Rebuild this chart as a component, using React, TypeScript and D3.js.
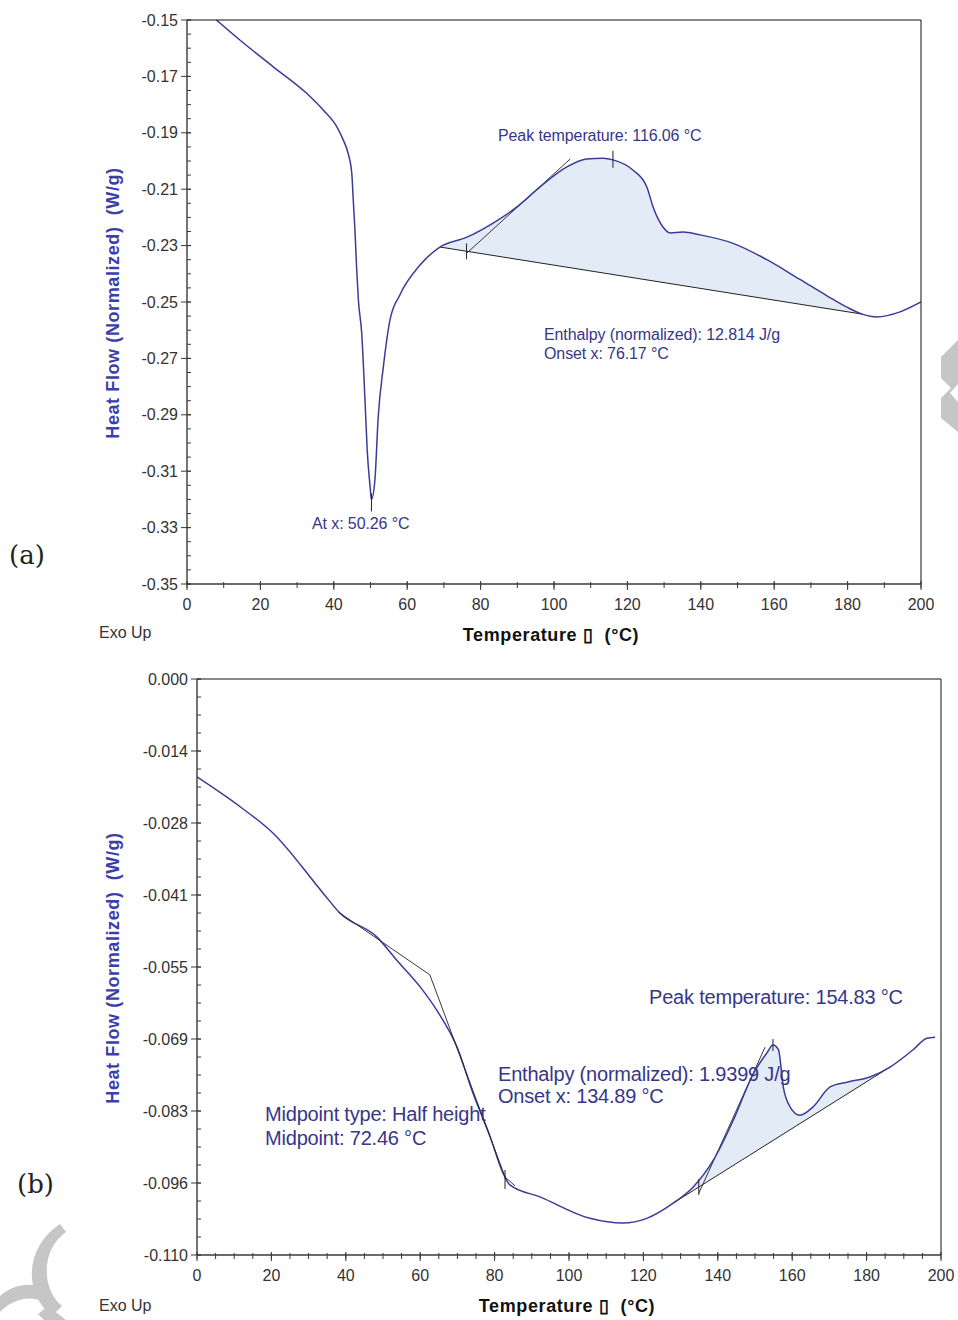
import React from 'react'
import * as d3 from 'd3'

// ---- panel (a) data ----
const tempA = [8, 14.4, 23.5, 32.6, 37.1, 40.8, 42.6, 43.9, 44.9, 45.3, 45.8, 46.2, 46.7, 47.6, 48.5, 49.1, 49.9, 50.26, 51.2, 52.1, 53.5, 55.3, 58, 63.5, 68.9, 76.3, 83.4, 89.9, 96.2, 103.5, 108.9, 113.4, 116.06, 121.5, 125.3, 127.0, 129.7, 131.6, 135.1, 139.8, 148.8, 158.0, 167.0, 174.4, 179.8, 184, 188, 194.3, 200]
const heatA = [-0.1500, -0.1571, -0.1666, -0.1760, -0.1819, -0.1878, -0.1926, -0.1973, -0.2044, -0.2138, -0.2255, -0.2375, -0.2493, -0.2610, -0.2848, -0.3025, -0.3156, -0.3200, -0.3131, -0.2908, -0.2730, -0.2564, -0.2475, -0.2369, -0.2305, -0.2270, -0.2220, -0.2163, -0.2092, -0.2021, -0.1993, -0.1990, -0.1996, -0.2032, -0.2092, -0.2163, -0.2234, -0.2255, -0.2252, -0.2262, -0.2292, -0.2350, -0.2420, -0.2478, -0.2518, -0.2543, -0.2553, -0.2535, -0.2500]
const baselineTA = [68.9, 184]
const baselineVA = [-0.2305, -0.2543]
const tangentTA = [76.3, 104.4]
const tangentVA = [-0.2326, -0.1993]
const peakA = 116.06
const onsetA = 76.17
const valleyA = 50.26
const xTicksA = [0, 20, 40, 60, 80, 100, 120, 140, 160, 180, 200]
const yTicksA = [-0.15, -0.17, -0.19, -0.21, -0.23, -0.25, -0.27, -0.29, -0.31, -0.33, -0.35]
const yLabelsA = ['-0.15', '-0.17', '-0.19', '-0.21', '-0.23', '-0.25', '-0.27', '-0.29', '-0.31', '-0.33', '-0.35']

// ---- panel (b) data ----
const tempB = [0, 11.6, 20.4, 33.9, 38.4, 48.4, 53.7, 60.0, 64.4, 69.9, 74.2, 78.8, 82.3, 84.1, 92.2, 105.6, 114.5, 120.9, 128.0, 133.4, 138.8, 144.2, 149.6, 153.2, 154.83, 156.3, 157.6, 159.4, 162.1, 165.6, 170.2, 174.7, 180.9, 186.3, 192.5, 196.2, 198.4]
const heatB = [-0.0187, -0.0244, -0.0294, -0.0409, -0.0447, -0.0493, -0.0537, -0.0588, -0.0632, -0.0703, -0.0791, -0.0874, -0.0944, -0.0966, -0.0989, -0.1030, -0.1039, -0.1030, -0.1001, -0.0970, -0.0919, -0.0842, -0.0753, -0.0714, -0.0699, -0.0708, -0.0779, -0.0817, -0.0833, -0.0817, -0.0779, -0.0770, -0.0760, -0.0741, -0.0708, -0.0686, -0.0684]
const baselineTB = [128.0, 186.3]
const baselineVB = [-0.1001, -0.0741]
const tangentTB = [134.9, 152.7]
const tangentVB = [-0.0982, -0.0703]
const glassTB = [38, 62.6, 82.8, 85.5]
const glassVB = [-0.0445, -0.0565, -0.0951, -0.0968]
const peakB = 154.83
const onsetB = 134.89
const glassEndB = 82.8
const xTicksB = [0, 20, 40, 60, 80, 100, 120, 140, 160, 180, 200]
const yTicksB = [0, -0.01375, -0.0275, -0.04125, -0.055, -0.06875, -0.0825, -0.09625, -0.11]
const yLabelsB = ['0.000', '-0.014', '-0.028', '-0.041', '-0.055', '-0.069', '-0.083', '-0.096', '-0.110']

const COLORS = {
  curve: '#3b3b98',
  text: '#36368a',
  fill: '#e3ecf6',
  axis: '#3a3a3a',
  tick: '#333',
  title: '#3a40a8',
  mark: '#222',
  water: '#c6c6c6'
}
const SANS = '"Liberation Sans", Arial, sans-serif'

const interp = (ts: number[], vs: number[], t: number) => {
  const i = d3.bisectLeft(ts, t)
  if (ts[i] === t) return vs[i]
  const a = Math.max(0, i - 1)
  return d3.scaleLinear().domain([ts[a], ts[i]]).range([vs[a], vs[i]])(t)
}

type PanelProps = {
  id: string
  temps: number[]
  heats: number[]
  x: d3.ScaleLinear<number, number>
  y: d3.ScaleLinear<number, number>
  xTicks: number[]
  xMinor: number
  yTicks: number[]
  yLabels: string[]
  yMinor: number
  baseT: number[]
  baseV: number[]
  tanT: number[]
  tanV: number[]
  tickFont: number
  children?: React.ReactNode
}

function Panel(props: PanelProps) {
  const { id, temps, heats, x, y, xTicks, xMinor, yTicks, yLabels, yMinor, baseT, baseV, tanT, tanV, tickFont } = props
  const [x0, x1] = x.range()
  const [yb, yt] = y.range()
  const pts = temps.map((t, i) => [t, heats[i]] as [number, number])

  const line = d3.line<[number, number]>()
    .x(d => x(d[0]))
    .y(d => y(d[1]))
    .curve(d3.curveMonotoneX)

  const base = d3.scaleLinear().domain(baseT).range(baseV)
  const inside = pts.filter(d => d[0] >= baseT[0] - 1e-9 && d[0] <= baseT[1] + 1e-9)
  const area = d3.area<[number, number]>()
    .x(d => x(d[0]))
    .y0(d => y(base(d[0])))
    .y1(d => y(d[1]))
    .curve(d3.curveMonotoneX)

  const xd = x.domain()
  const yd = y.domain()
  const xMinorTicks = d3.range(xd[0], xd[1] + 1e-9, xMinor)
  const yMinorTicks = d3.range(0, Math.round((yd[1] - yd[0]) / yMinor) + 1).map(i => yd[0] + i * yMinor)

  return (
    <g>
      <defs>
        <clipPath id={`clip-${id}`}>
          <rect x={x0} y={yt} width={x1 - x0} height={yb - yt} />
        </clipPath>
      </defs>
      <g clipPath={`url(#clip-${id})`}>
        <path d={area(inside) || ''} fill={COLORS.fill} stroke="none" />
        <line x1={x(baseT[0])} y1={y(baseV[0])} x2={x(baseT[1])} y2={y(baseV[1])} stroke={COLORS.mark} strokeWidth={1} />
        <line x1={x(tanT[0])} y1={y(tanV[0])} x2={x(tanT[1])} y2={y(tanV[1])} stroke={COLORS.mark} strokeWidth={0.9} />
        <path d={line(pts) || ''} fill="none" stroke={COLORS.curve} strokeWidth={1.5} />
      </g>
      {/* frame */}
      <line x1={x0} y1={yt} x2={x1} y2={yt} stroke="#111" strokeWidth={1} />
      <line x1={x1} y1={yt} x2={x1} y2={yb} stroke="#111" strokeWidth={1} />
      <line x1={x0} y1={yt} x2={x0} y2={yb} stroke={COLORS.axis} strokeWidth={1.4} />
      <line x1={x0} y1={yb} x2={x1} y2={yb} stroke={COLORS.axis} strokeWidth={1.4} />
      {/* minor ticks */}
      {xMinorTicks.map((t, i) => (
        <line key={`xm${i}`} x1={x(t)} x2={x(t)} y1={yb - 2} y2={yb + 4} stroke={COLORS.axis} strokeWidth={1} />
      ))}
      {yMinorTicks.map((v, i) => (
        <line key={`ym${i}`} x1={x0} x2={x0 + 4} y1={y(v)} y2={y(v)} stroke={COLORS.axis} strokeWidth={1} />
      ))}
      {/* major ticks */}
      {xTicks.map(t => (
        <g key={`x${t}`}>
          <line x1={x(t)} x2={x(t)} y1={yb - 3} y2={yb + 6} stroke={COLORS.axis} strokeWidth={1} />
          <text x={x(t)} y={yb + 26} textAnchor="middle" fontFamily={SANS} fontSize={tickFont} fill={COLORS.tick}>{t}</text>
        </g>
      ))}
      {yTicks.map((v, i) => (
        <g key={`y${i}`}>
          <line x1={x0 - 6} x2={x0 + 4} y1={y(v)} y2={y(v)} stroke={COLORS.axis} strokeWidth={1} />
          <text x={x0 - 9} y={y(v)} dy="0.35em" textAnchor="end" fontFamily={SANS} fontSize={tickFont} fill={COLORS.tick}>{yLabels[i]}</text>
        </g>
      ))}
      {props.children}
    </g>
  )
}

const VTick = ({ x, y, up, down }: { x: number; y: number; up: number; down: number }) => (
  <line x1={x} x2={x} y1={y - up} y2={y + down} stroke={COLORS.mark} strokeWidth={1} />
)

export default function App() {
  const xA = d3.scaleLinear().domain([0, 200]).range([187, 921])
  const yA = d3.scaleLinear().domain([-0.35, -0.15]).range([584, 20])
  const xB = d3.scaleLinear().domain([0, 200]).range([197, 941])
  const yB = d3.scaleLinear().domain([-0.11, 0]).range([1255, 679])

  const baseA = d3.scaleLinear().domain(baselineTA).range(baselineVA)
  const baseB = d3.scaleLinear().domain(baselineTB).range(baselineVB)
  const glassLine = d3.line<number>().x(t => xB(t)).y((t, i) => yB(glassVB[i]))

  const annA = { fontFamily: SANS, fontSize: 16, fill: COLORS.text, letterSpacing: -0.1 }
  const annB = { fontFamily: SANS, fontSize: 20, fill: COLORS.text, letterSpacing: -0.2 }
  const titleStyle = { fontFamily: SANS, fontSize: 18, fontWeight: 'bold' as const, letterSpacing: 0.6 }

  return (
    <svg width={958} height={1320} style={{ position: 'absolute', left: 0, top: 0, background: '#fff' }}>
      <rect width={958} height={1320} fill="#fff" />

      {/* watermark shapes */}
      <polygon points="958,340 941,357 941,378 951,388 941,398 941,418 958,432 958,402 950,393 958,384" fill={COLORS.water} />
      <path d="M66,1232 C40,1250 42,1290 62,1306 L52,1316 C22,1292 26,1246 60,1224 Z" fill={COLORS.water} />
      <path d="M0,1296 C14,1284 30,1282 44,1288 L40,1300 C26,1296 12,1300 0,1312 Z" fill={COLORS.water} />
      <path d="M48,1306 L66,1320 L44,1320 L38,1314 Z" fill={COLORS.water} />

      {/* panel (a) */}
      <Panel id="a" temps={tempA} heats={heatA} x={xA} y={yA} xTicks={xTicksA} xMinor={10}
        yTicks={yTicksA} yLabels={yLabelsA} yMinor={0.005} baseT={baselineTA} baseV={baselineVA}
        tanT={tangentTA} tanV={tangentVA} tickFont={16}>
        <VTick x={xA(onsetA)} y={yA(baseA(onsetA))} up={8} down={8} />
        <VTick x={xA(peakA)} y={yA(interp(tempA, heatA, peakA))} up={9} down={8} />
        <VTick x={xA(valleyA)} y={yA(interp(tempA, heatA, valleyA))} up={6} down={12} />
        <text x={498} y={141} {...annA}>Peak temperature: 116.06 °C</text>
        <text x={544} y={340} {...annA}>Enthalpy (normalized): 12.814 J/g</text>
        <text x={544} y={359} {...annA}>Onset x: 76.17 °C</text>
        <text x={312} y={529} {...annA}>At x: 50.26 °C</text>
        <text x={113} y={303} transform="rotate(-90 113 303)" textAnchor="middle" dy="0.35em" {...titleStyle} fill={COLORS.title} style={{ whiteSpace: 'pre' }}>Heat Flow (Normalized)  (W/g)</text>
        <text x={551} y={641} textAnchor="middle" {...titleStyle} fill="#111" style={{ whiteSpace: 'pre' }}>Temperature ▯  (°C)</text>
        <text x={99} y={638} fontFamily={SANS} fontSize={16} fill="#333">Exo Up</text>
      </Panel>
      <text x={9} y={564} fontFamily='"DejaVu Serif", "Liberation Serif", serif' fontSize={26} fill="#222">(a)</text>

      {/* panel (b) */}
      <Panel id="b" temps={tempB} heats={heatB} x={xB} y={yB} xTicks={xTicksB} xMinor={5}
        yTicks={yTicksB} yLabels={yLabelsB} yMinor={0.01375 / 4} baseT={baselineTB} baseV={baselineVB}
        tanT={tangentTB} tanV={tangentVB} tickFont={16}>
        <path d={glassLine(glassTB) || ''} fill="none" stroke={COLORS.mark} strokeWidth={0.9} />
        <VTick x={xB(glassEndB)} y={yB(interp(glassTB, glassVB, glassEndB))} up={7} down={12} />
        <VTick x={xB(onsetB)} y={yB(baseB(onsetB))} up={8} down={8} />
        <VTick x={xB(peakB)} y={yB(interp(tempB, heatB, peakB))} up={6} down={6} />
        <text x={649} y={1004} {...annB}>Peak temperature: 154.83 °C</text>
        <text x={498} y={1081} {...annB}>Enthalpy (normalized): 1.9399 J/g</text>
        <text x={498} y={1103} {...annB}>Onset x: 134.89 °C</text>
        <text x={265} y={1121} {...annB}>Midpoint type: Half height</text>
        <text x={265} y={1145} {...annB}>Midpoint: 72.46 °C</text>
        <text x={113} y={968} transform="rotate(-90 113 968)" textAnchor="middle" dy="0.35em" {...titleStyle} fill={COLORS.title} style={{ whiteSpace: 'pre' }}>Heat Flow (Normalized)  (W/g)</text>
        <text x={567} y={1312} textAnchor="middle" {...titleStyle} fill="#111" style={{ whiteSpace: 'pre' }}>Temperature ▯  (°C)</text>
        <text x={99} y={1311} fontFamily={SANS} fontSize={16} fill="#333">Exo Up</text>
      </Panel>
      <text x={17} y={1193} fontFamily='"DejaVu Serif", "Liberation Serif", serif' fontSize={26} fill="#222">(b)</text>
    </svg>
  )
}
